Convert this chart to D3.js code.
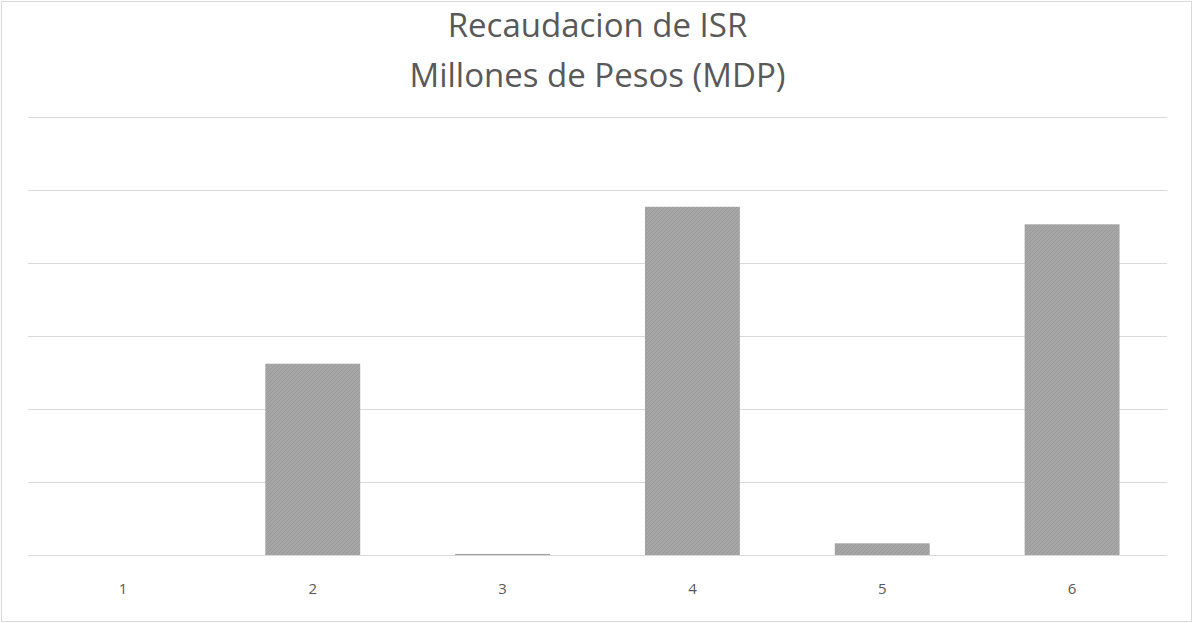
<!DOCTYPE html>
<html>
<head>
<meta charset="utf-8">
<script src="https://cdn.jsdelivr.net/npm/d3@7"></script>
<style>
  html, body { margin: 0; padding: 0; background: #fff; }
  svg { display: block; }
</style>
</head>
<body>
<svg id="chart" width="1193" height="623"></svg>
<script>
// data (units = one gridline step)
const categories = ['1', '2', '3', '4', '5', '6'];
const values = [0, 2.62, 0.015, 4.77, 0.16, 4.53];
const gridTicks = [0, 1, 2, 3, 4, 5, 6];
const titleLines = ['Recaudacion de ISR', 'Millones de Pesos (MDP)'];

const width = 1193, height = 623;
const margin = { top: 117, right: 26, bottom: 68, left: 28 };

const svg = d3.select('#chart');

// chart frame
svg.append('rect')
  .attr('x', 1.5).attr('y', 1.5)
  .attr('width', width - 3).attr('height', height - 3)
  .attr('fill', '#fff')
  .attr('stroke', '#d9d9d9');

const x = d3.scaleBand()
  .domain(categories)
  .range([margin.left, width - margin.right])
  .paddingInner(0.5)
  .paddingOuter(0.25);

const y = d3.scaleLinear()
  .domain([0, 6])
  .range([height - margin.bottom, margin.top]);

// gridlines
svg.append('g')
  .selectAll('line')
  .data(gridTicks)
  .join('line')
  .attr('x1', margin.left)
  .attr('x2', width - margin.right)
  .attr('y1', d => Math.round(y(d)) + 0.5)
  .attr('y2', d => Math.round(y(d)) + 0.5)
  .attr('stroke', '#d9d9d9')
  .attr('stroke-width', 1);

// hatch-ish fill like the original
const defs = svg.append('defs');
const pat = defs.append('pattern')
  .attr('id', 'hatch')
  .attr('patternUnits', 'userSpaceOnUse')
  .attr('width', 4).attr('height', 4);
pat.append('rect').attr('width', 4).attr('height', 4).attr('fill', '#a6a6a6');
pat.append('path').attr('d', 'M0,4 L4,0').attr('stroke', '#9a9a9a').attr('stroke-width', 1);

// bars
svg.append('g')
  .selectAll('rect')
  .data(values)
  .join('rect')
  .attr('x', (d, i) => x(categories[i]))
  .attr('width', x.bandwidth())
  .attr('y', d => y(d))
  .attr('height', d => y(0) - y(d))
  .attr('fill', 'url(#hatch)');

// category labels
svg.append('g')
  .selectAll('text')
  .data(categories)
  .join('text')
  .attr('x', d => x(d) + x.bandwidth() / 2)
  .attr('y', height - margin.bottom + 39)
  .attr('text-anchor', 'middle')
  .attr('fill', '#595959')
  .style('font-family', '"Open Sans", sans-serif')
  .style('font-size', '15px')
  .text(d => d);

// title
svg.append('g')
  .selectAll('text')
  .data(titleLines)
  .join('text')
  .attr('x', width / 2 + 1)
  .attr('y', (d, i) => 37 + i * 50)
  .attr('text-anchor', 'middle')
  .attr('fill', '#595959')
  .style('font-family', '"Open Sans", sans-serif')
  .style('font-size', '33px')
  .text(d => d);
</script>
</body>
</html>
